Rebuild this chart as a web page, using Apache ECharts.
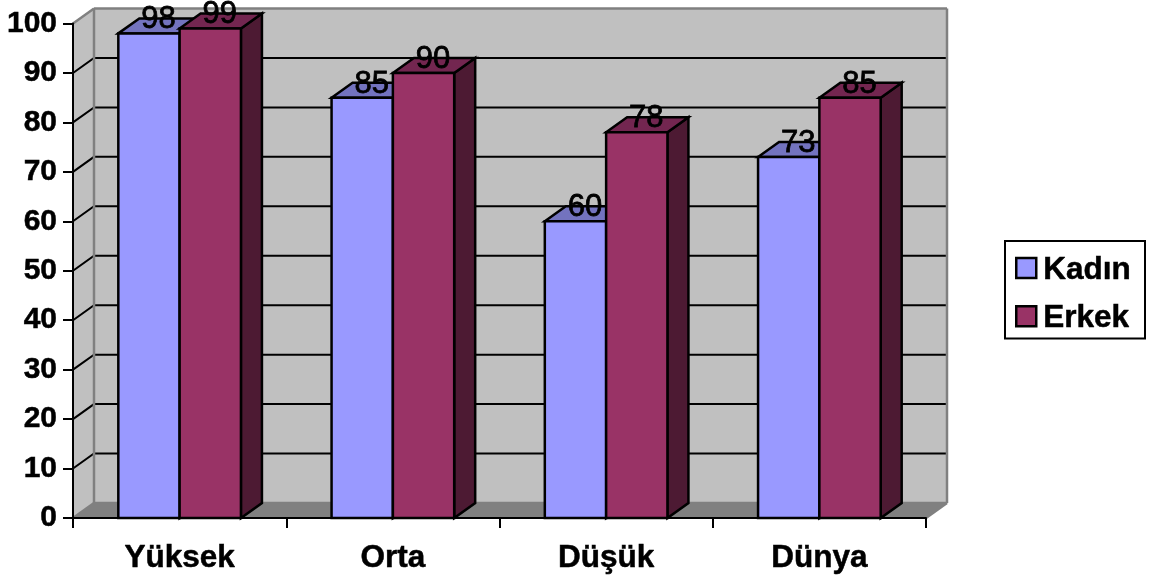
<!DOCTYPE html>
<html>
<head>
<meta charset="utf-8">
<style>html,body{margin:0;padding:0;background:#fff}#c{width:1157px;height:578px}</style>
<script src="https://cdn.jsdelivr.net/npm/echarts@6/dist/echarts.min.js"></script>
</head>
<body>
<div id="c"></div>
<script>
const categories = ['Yüksek', 'Orta', 'Düşük', 'Dünya'];
const kadin = [98, 85, 60, 73];
const erkek = [99, 90, 78, 85];
const yTicks = [10, 20, 30, 40, 50, 60, 70, 80, 90];
const FONT = '"Liberation Sans", Arial, sans-serif';
const DX = 21, DY = 15;
const BAR_RATIO = 0.2875;
const chart = echarts.init(document.getElementById('c'), null, {renderer: 'canvas'});

function wall(params, api) {
  const p0 = api.coord([0, 0]), p1 = api.coord([0, 100]);
  const cs = params.coordSys;
  const l = cs.x, r = cs.x + cs.width, b = p0[1], t = p1[1];
  const edge = {stroke: '#808080', lineWidth: 2.5};
  const poly = (pts, fill, stroke) => ({type: 'polygon', shape: {points: pts}, style: {fill: fill, stroke: stroke || 'none', lineWidth: 2}});
  const line = (a, c, d, e, st) => ({type: 'line', shape: {x1: a, y1: c, x2: d, y2: e}, style: st});
  const ch = [
    poly([[l + DX, t - DY], [r + DX, t - DY], [r + DX, b - DY], [l + DX, b - DY]], '#C0C0C0'),
    poly([[l, t], [l + DX, t - DY], [l + DX, b - DY], [l, b]], '#C0C0C0'),
    poly([[l, b], [l + DX, b - DY], [r + DX, b - DY], [r, b]], '#808080')
  ];
  yTicks.forEach(v => {
    const y = api.coord([0, v])[1];
    ch.push({type: 'polyline', shape: {points: [[l, y], [l + DX, y - DY], [r + DX, y - DY]]},
      style: {fill: 'none', stroke: '#000', lineWidth: 2}});
  });
  ch.push(line(l, t, l + DX, t - DY, edge));
  ch.push(line(l + DX, t - DY, r + DX, t - DY, edge));
  ch.push(line(r + DX, t - DY, r + DX, b - DY, edge));
  ch.push(line(l + DX, t - DY, l + DX, b - DY, edge));
  ch.push(line(l + DX, b - DY, r + DX, b - DY, edge));
  ch.push(line(l, b, l + DX, b - DY, edge));
  ch.push(line(r, b, r + DX, b - DY, edge));
  return {type: 'group', children: ch};
}

function bars(offset, front, top, side) {
  return function (params, api) {
    const c = api.coord([api.value(0), api.value(1)]);
    const base = api.coord([api.value(0), 0]);
    const w = api.size([1, 0])[0] * BAR_RATIO;
    const x0 = c[0] + offset * w, x1 = x0 + w, yt = c[1], yb = base[1];
    const st = f => ({fill: f, stroke: '#000', lineWidth: 2.5, lineJoin: 'miter'});
    return {type: 'group', children: [
      {type: 'polygon', shape: {points: [[x1, yt], [x1 + DX, yt - DY], [x1 + DX, yb - DY], [x1, yb]]}, style: st(side)},
      {type: 'polygon', shape: {points: [[x0, yt], [x0 + DX, yt - DY], [x1 + DX, yt - DY], [x1, yt]]}, style: st(top)},
      {type: 'rect', shape: {x: x0, y: yt, width: w, height: yb - yt}, style: st(front)},
      {type: 'text', z2: 100, style: {text: String(api.value(1)), x: (x0 + x1) / 2 + 9.5, y: yt - 13.5,
        align: 'center', verticalAlign: 'middle', fill: '#000', stroke: '#000', lineWidth: 0.8, font: '31px ' + FONT}}
    ]};
  };
}

const toData = arr => arr.map((v, i) => [i, v]);
chart.setOption({
  animation: false,
  backgroundColor: '#fff',
  grid: {left: 73, right: 231, top: 23.5, bottom: 60, containLabel: false},
  legend: {
    show: true, orient: 'vertical', left: 1005, top: 241,
    padding: [9, 14, 4, 10], itemGap: 12, itemWidth: 20, itemHeight: 20, icon: 'rect',
    borderColor: '#000', borderWidth: 2, backgroundColor: '#fff', selectedMode: false,
    formatter: '{a|{name}}',
    textStyle: {color: '#000', fontFamily: FONT, fontSize: 31.5, lineHeight: 30, fontWeight: 'bold', padding: [0, 0, 0, 2],
      rich: {a: {color: '#000', fontFamily: FONT, fontSize: 31.5, fontWeight: 'bold', lineHeight: 30, padding: [4, 0, 0, 0],
        textBorderColor: '#000', textBorderWidth: 0.5}}},
    data: [
      {name: 'Kadın', itemStyle: {color: '#9999FF', borderColor: '#000', borderWidth: 2.5}},
      {name: 'Erkek', itemStyle: {color: '#993366', borderColor: '#000', borderWidth: 2.5}}
    ]
  },
  xAxis: {
    type: 'category', data: categories, boundaryGap: true, z: 3,
    axisLine: {show: true, onZero: false, lineStyle: {color: '#000', width: 2}},
    axisTick: {show: true, length: 10, alignWithLabel: false, lineStyle: {color: '#000', width: 2}},
    axisLabel: {color: '#000', fontFamily: FONT, fontSize: 31.5, fontWeight: 'bold', margin: 24, interval: 0,
      textBorderColor: '#000', textBorderWidth: 0.5},
    splitLine: {show: false}
  },
  yAxis: {
    type: 'value', min: 0, max: 100, interval: 10, z: 3,
    axisLine: {show: true, lineStyle: {color: '#000', width: 2}},
    axisTick: {show: true, length: 10, lineStyle: {color: '#000', width: 2}},
    axisLabel: {color: '#000', fontFamily: FONT, fontSize: 30, fontWeight: 'bold', margin: 16, padding: [4, 0, 0, 0],
      textBorderColor: '#000', textBorderWidth: 0.5},
    splitLine: {show: false}
  },
  series: [
    {type: 'custom', name: 'wall', z: 1, silent: true, clip: false, renderItem: wall, data: [[0, 0]], encode: {x: 0, y: 1}},
    {type: 'custom', name: 'Kadın', z: 4, clip: false, renderItem: bars(-1, '#9999FF', '#7373BF', '#4D4D80'),
      itemStyle: {color: '#9999FF'}, data: toData(kadin), encode: {x: 0, y: 1}},
    {type: 'custom', name: 'Erkek', z: 5, clip: false, renderItem: bars(0, '#993366', '#732650', '#4D1A33'),
      itemStyle: {color: '#993366'}, data: toData(erkek), encode: {x: 0, y: 1}}
  ]
});
</script>
</body>
</html>
